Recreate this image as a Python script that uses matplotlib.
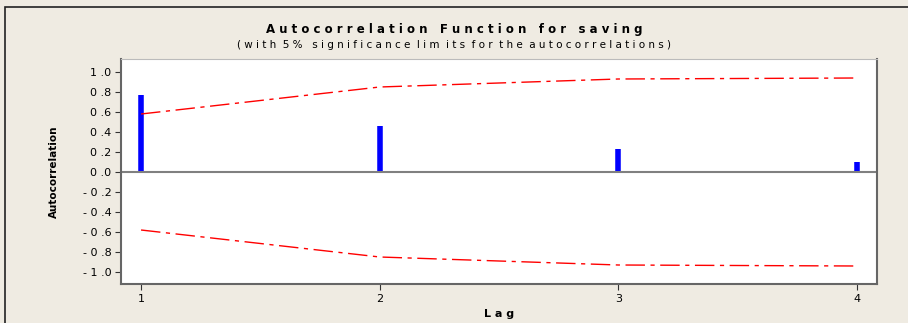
import matplotlib.pyplot as plt
from matplotlib.patches import Rectangle

# ACF values
lags = [1, 2, 3, 4]
acf = [0.77, 0.46, 0.23, 0.10]
upper_limit = [0.58, 0.85, 0.93, 0.94]
lower_limit = [-0.58, -0.85, -0.93, -0.94]
ytick_vals = [1.0, 0.8, 0.6, 0.4, 0.2, 0.0, -0.2, -0.4, -0.6, -0.8, -1.0]
ytick_labels = ['1 .0', '0 .8', '0 .6', '0 .4', '0 .2', '0 .0',
                '- 0 .2', '- 0 .4', '- 0 .6', '- 0 .8', '- 1 .0']

bg = '#EFEBE2'
fig = plt.figure(figsize=(9.08, 3.23), dpi=100, facecolor=bg)

# outer frame line (top and left edges visible)
fig.patches.append(Rectangle((5 / 908, -0.1), 1.2, (323 - 7) / 323 + 0.1,
                             transform=fig.transFigure, fill=False,
                             edgecolor='#222222', linewidth=1.2))

ax = fig.add_axes([121 / 908, (323 - 284) / 323, (877 - 121) / 908, (284 - 59) / 323])
ax.set_facecolor('white')

ax.vlines(lags, 0, acf, color='#0000FF', linewidth=4)
ax.plot(lags, upper_limit, color='red', linestyle=(0, (14, 4, 3, 4)), linewidth=1)
ax.plot(lags, lower_limit, color='red', linestyle=(0, (14, 4, 3, 4)), linewidth=1)
ax.axhline(0, color='#808080', linewidth=1.5)

ax.set_xlim(0.916, 4.084)
ax.set_ylim(-1.12, 1.13)
ax.set_xticks(lags)
ax.set_xticklabels([str(l) for l in lags], fontsize=8)
ax.set_yticks(ytick_vals)
ax.set_yticklabels(ytick_labels, fontsize=8)
ax.tick_params(axis='both', direction='out', length=4, color='#333333', pad=3)

for side in ['left', 'bottom', 'right']:
    ax.spines[side].set_color('#666666')
    ax.spines[side].set_linewidth(1.5)
ax.spines['top'].set_color('#BBBBBB')

ax.set_ylabel('Autocorrelation', fontsize=7.5, fontweight='bold', labelpad=17)
ax.set_xlabel('L a g', fontsize=8, fontweight='bold', labelpad=4)

fig.text(0.5, 1 - 30 / 323, 'A u t o c o r r e l a t i o n   F u n c t i o n   f o r   s a v i n g',
         ha='center', va='center', fontsize=8.5, fontweight='bold')
fig.text(0.5, 1 - 45 / 323, '( w i t h  5 %   s i g n i f i c a n c e  l i m  i t s  f o r  t h e  a u t o c o r r e l a t i o n s )',
         ha='center', va='center', fontsize=7.5)

fig.savefig('out.png', dpi=100, facecolor=bg)
